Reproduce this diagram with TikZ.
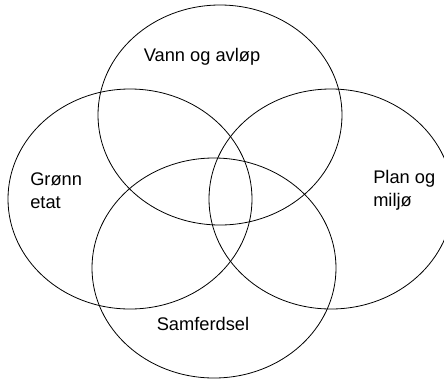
\documentclass[tikz,border=0pt]{standalone}
\usepackage{fontspec}
\setmainfont{Liberation Sans}
\usetikzlibrary{shapes.geometric, positioning}

\begin{document}
\begin{tikzpicture}[
    x=0.75pt, y=-0.75pt,
    venn/.style={ellipse, draw=black, line width=0.6pt, minimum width=183pt, minimum height=165pt, inner sep=0pt},
    label/.style={inner sep=0pt, align=left, font=\fontsize{13.7}{17.25}\selectfont}
]
\useasboundingbox (0,0) rectangle (444,380);

% Sets
\node[venn] (vann) at (220,115) {};
\node[venn] (gronn) at (130,199) {};
\node[venn] (plan) at (331,199) {};
\node[venn] (samf) at (214,268) {};

% Labels
\node[label, anchor=base] (vann_txt) at (202,61) {Vann og avløp};
\node[label, anchor=base west] (gronn_txt) at (30,208) {Grønn\\etat};
\node[label, anchor=base west] (plan_txt) at (373,206) {Plan og\\miljø};
\node[label, anchor=base] (samf_txt) at (203,330) {Samferdsel};
\end{tikzpicture}
\end{document}
